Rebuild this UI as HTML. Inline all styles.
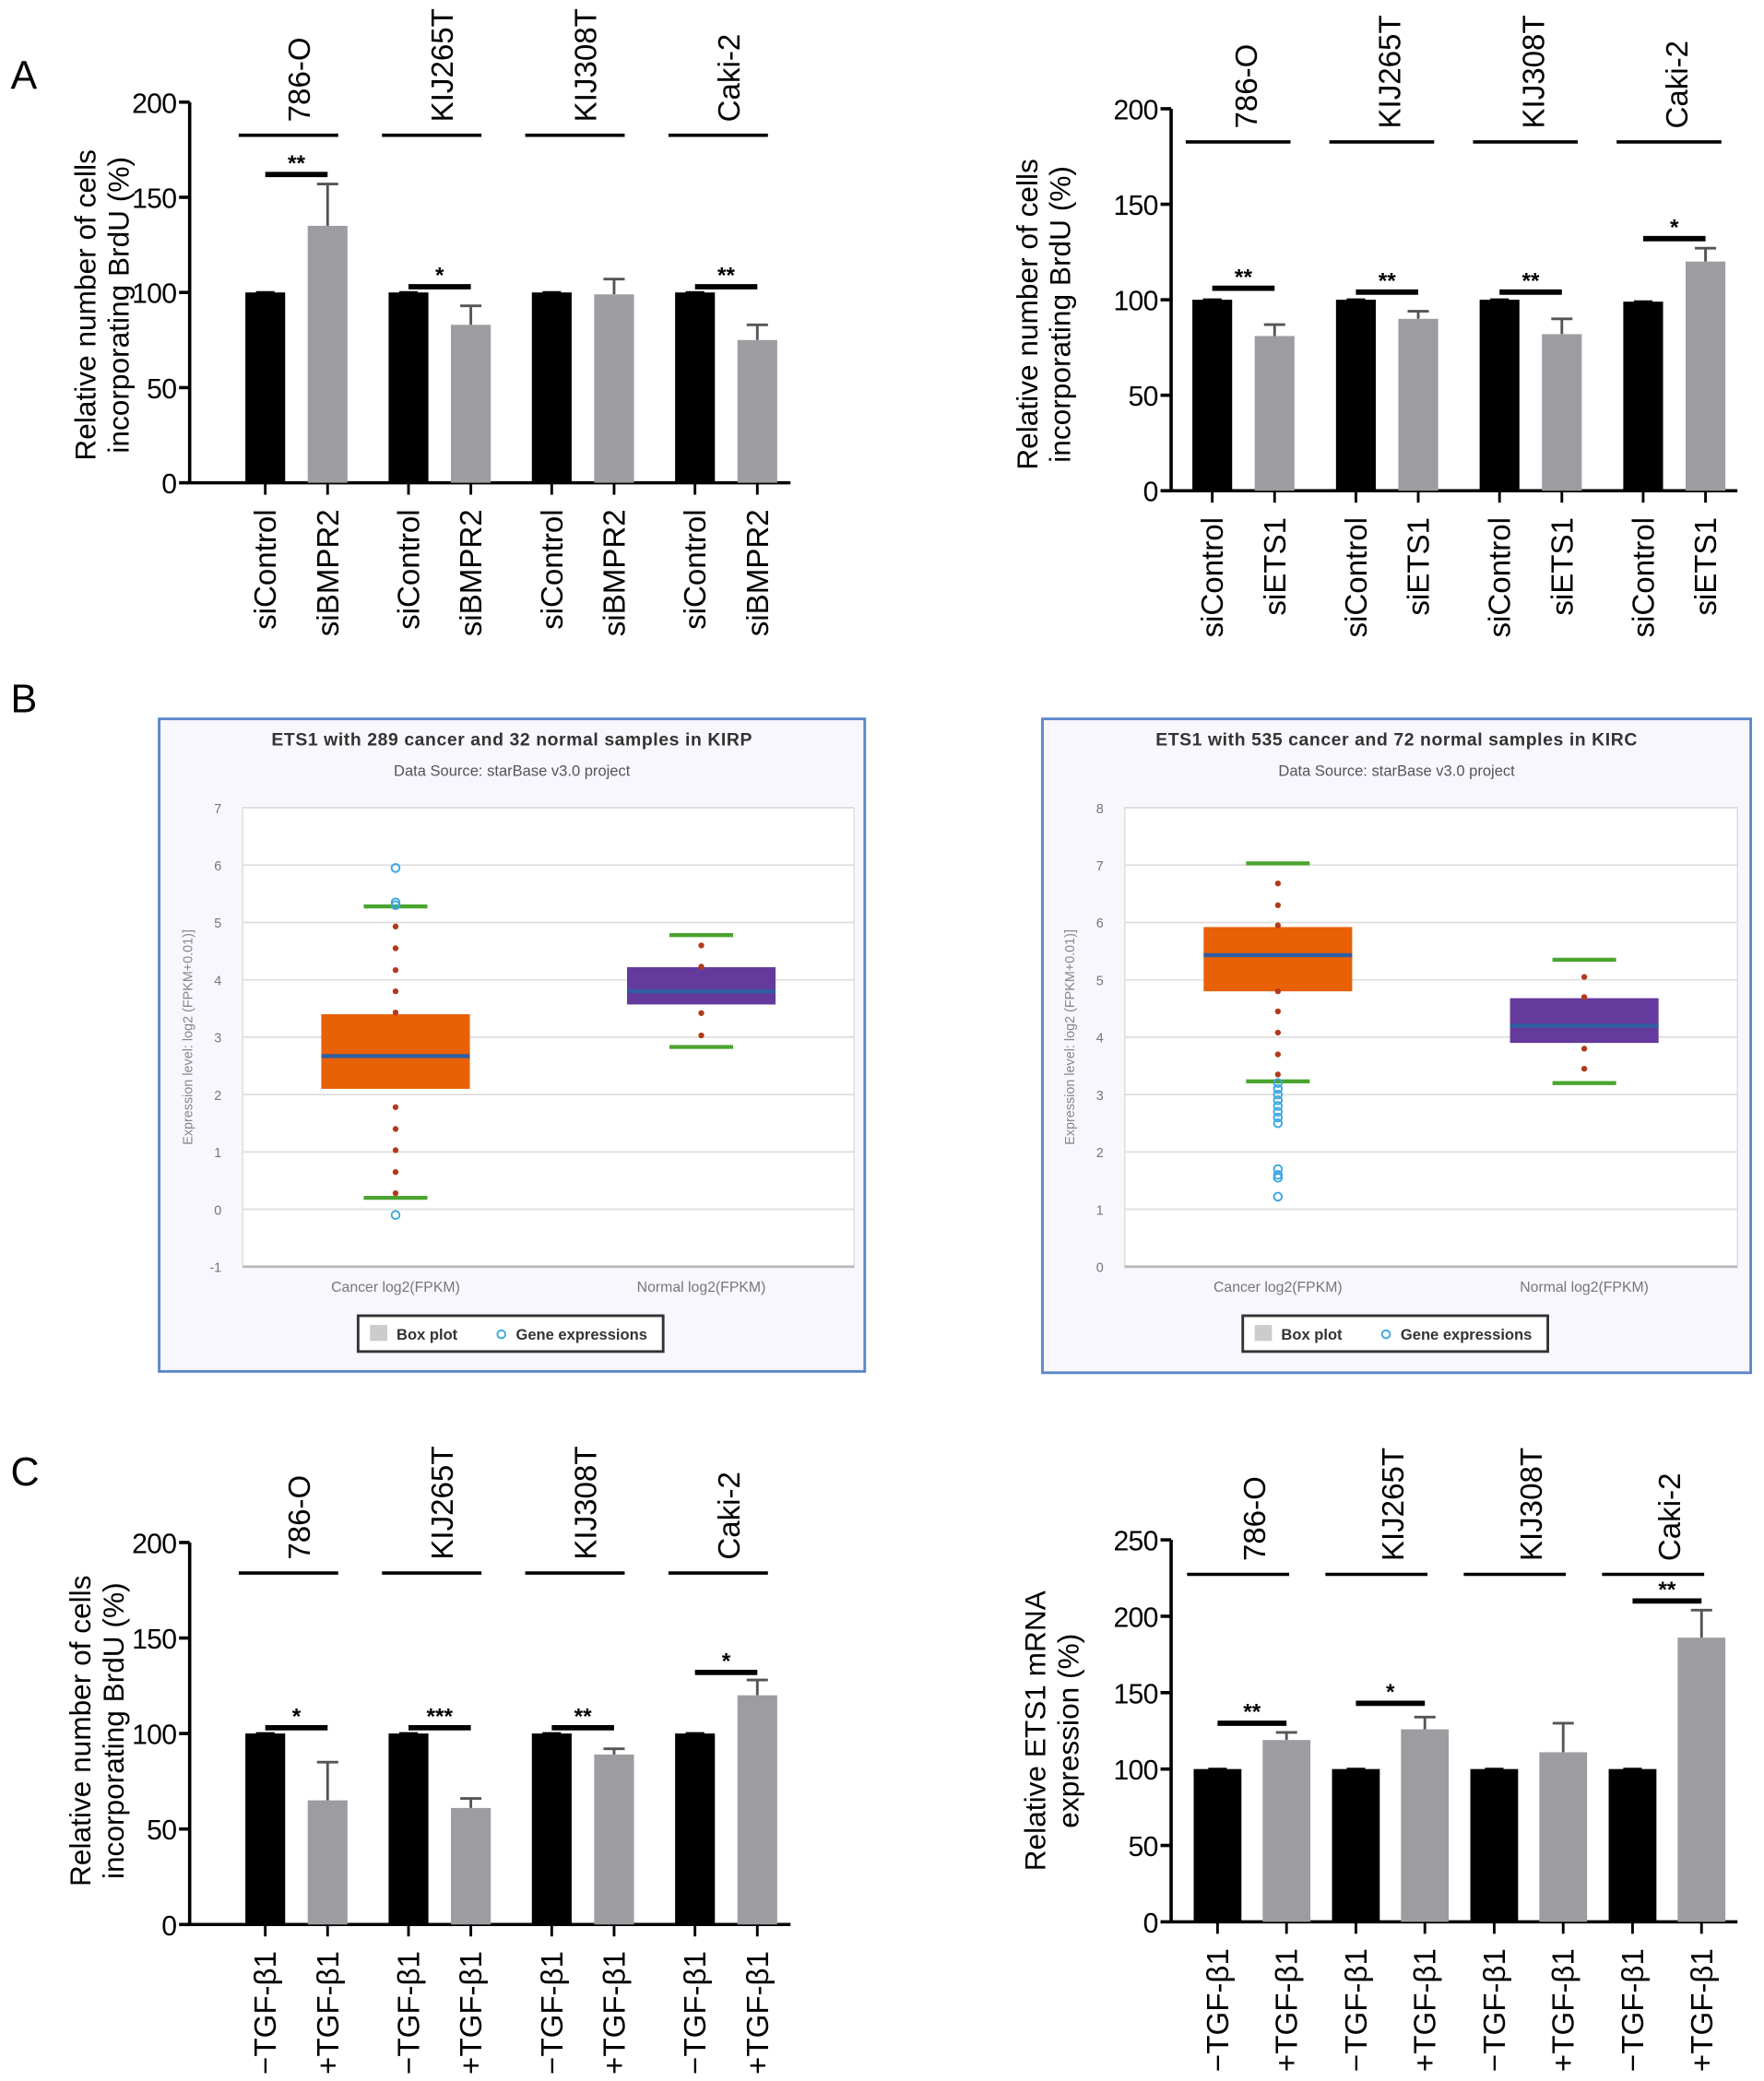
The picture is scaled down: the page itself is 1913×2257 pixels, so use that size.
<!DOCTYPE html>
<html><head><meta charset="utf-8"><style>
html,body{margin:0;padding:0;background:#fff;}
svg{display:block;font-family:"Liberation Sans",sans-serif;}
</style></head><body>
<svg id="fig" width="1913" height="2257" viewBox="0 0 1330 1569" preserveAspectRatio="none" xmlns="http://www.w3.org/2000/svg">
<text x="8" y="67" font-size="30">A</text>
<text x="8" y="537" font-size="30">B</text>
<text x="8" y="1120" font-size="30">C</text>
</svg>
<script>
const NS="http://www.w3.org/2000/svg";
const svg=document.getElementById('fig');
function mk(tag,attrs,parent,txt){const e=document.createElementNS(NS,tag);for(const k in attrs)e.setAttribute(k,attrs[k]);if(txt!==undefined)e.textContent=txt;(parent||svg).appendChild(e);return e;}

// ---------- data ----------
const cellLines=["786-O","KIJ265T","KIJ308T","Caki-2"];
const aLeftCtrl=[100,100,100,100];
const aLeftTreat=[135,83,99,75];
const aLeftErr=[157,93,107,83];
const aLeftSig=["**","*","","**"];
const aLeftSigY=[162,103,0,103];
const aRightCtrl=[100,100,100,99];
const aRightTreat=[81,90,82,120];
const aRightErr=[87,94,90,127];
const aRightSig=["**","**","**","*"];
const aRightSigY=[106,104,104,132];
const cLeftCtrl=[100,100,100,100];
const cLeftTreat=[65,61,89,120];
const cLeftErr=[85,66,92,128];
const cLeftSig=["*","***","**","*"];
const cLeftSigY=[103,103,103,132];
const cRightCtrl=[100,100,100,100];
const cRightTreat=[119,126,111,186];
const cRightErr=[124,134,130,204];
const cRightSig=["**","*","","**"];
const cRightSigY=[130,143,0,210];
const ticksA=[0,50,100,150,200];
const ticksCR=[0,50,100,150,200,250];

function barChart(o){
  const g=mk('g',{});
  
  
  const y=v=>o.y0-(v/o.max)*(o.y0-o.yTop);
  const ax=mk('line',{x1:o.ax,y1:o.yTop,x2:o.ax,y2:o.y0+1,stroke:'#000','stroke-width':2.5},g);
  
  const bx=mk('line',{x1:o.ax,y1:o.y0,x2:o.axEnd,y2:o.y0,stroke:'#000','stroke-width':2.5},g);
  
  o.ticks.forEach(t=>{
    mk('line',{x1:o.ax-8,y1:y(t),x2:o.ax,y2:y(t),stroke:'#000','stroke-width':2.5},g);
    const tl=mk('text',{x:o.ax-10,y:y(t)+8,'font-size':21,'text-anchor':'end','letter-spacing':-0.5},g,String(t));
    
  });
  const yt=mk('text',{transform:`translate(${o.titleX},${o.titleY}) rotate(-90)`,'font-size':22,'text-anchor':'middle'},g);
  
  mk('tspan',{x:0,dy:0},yt,o.title[0]);
  mk('tspan',{x:0,dy:25},yt,o.title[1]);
  o.ctrl.forEach((v,i)=>{
    const gx=o.g0+i*o.gs;
    const cx1=gx, cx2=gx+o.off;
    const b1=mk('rect',{x:cx1,y:y(v),width:o.bw,height:o.y0-y(v),fill:'#000'},g);
    
    mk('line',{x1:cx1+o.bw/2-7,y1:y(v),x2:cx1+o.bw/2+7,y2:y(v),stroke:'#000','stroke-width':2},g);
    const tv=o.treat[i];
    mk('line',{x1:cx2+o.bw/2,y1:y(tv),x2:cx2+o.bw/2,y2:y(o.err[i]),stroke:'#555','stroke-width':2},g);
    mk('line',{x1:cx2+o.bw/2-8,y1:y(o.err[i]),x2:cx2+o.bw/2+8,y2:y(o.err[i]),stroke:'#555','stroke-width':2},g);
    const b2=mk('rect',{x:cx2,y:y(tv),width:o.bw,height:o.y0-y(tv),fill:'#9d9da1'},g);
    
    mk('line',{x1:cx1+o.bw/2,y1:o.y0,x2:cx1+o.bw/2,y2:o.y0+9,stroke:'#000','stroke-width':2},g);
    mk('line',{x1:cx2+o.bw/2,y1:o.y0,x2:cx2+o.bw/2,y2:o.y0+9,stroke:'#000','stroke-width':2},g);
    [[cx1,o.xl[0]],[cx2,o.xl[1]]].forEach(([bx2,lab])=>{
      const t=mk('text',{transform:`translate(${bx2+o.bw/2+8},${o.y0+20}) rotate(-90)`,'font-size':23,'text-anchor':'end'},g,lab);
      
    });
    const gl=mk('line',{x1:cx1-5,y1:o.groupY,x2:cx2+o.bw-o.glTrim,y2:o.groupY,stroke:'#000','stroke-width':2.5},g);
    
    const lab=mk('text',{transform:`translate(${(cx1+cx2+o.bw)/2+10},${o.groupY-10}) rotate(-90)`,'font-size':23},g,cellLines[i]);
    
    if(o.sig[i]){
      const sy=y(o.sigY[i]);
      const sl=mk('line',{x1:cx1+o.bw/2,y1:sy,x2:cx2+o.bw/2,y2:sy,stroke:'#000','stroke-width':4},g);
      
      const st=mk('text',{x:(cx1+cx2+o.bw)/2,y:sy-3,'font-size':17,'font-weight':'bold','text-anchor':'middle'},g,o.sig[i]);
      
    }
  });
}
barChart({name:'chart-a-left',ax:143,axEnd:596,y0:364,yTop:77,max:200,ticks:ticksA,g0:185,gs:108,off:47,bw:30,glTrim:7,
  ctrl:aLeftCtrl,treat:aLeftTreat,err:aLeftErr,sig:aLeftSig,sigY:aLeftSigY,groupY:102,xl:["siControl","siBMPR2"],
  title:["Relative number of cells","incorporating BrdU (%)"],titleX:72,titleY:230});
barChart({name:'chart-a-right',ax:883,axEnd:1310,y0:370,yTop:82,max:200,ticks:ticksA,g0:899,gs:108.3,off:47,bw:30,glTrim:3,
  ctrl:aRightCtrl,treat:aRightTreat,err:aRightErr,sig:aRightSig,sigY:aRightSigY,groupY:107,xl:["siControl","siETS1"],
  title:["Relative number of cells","incorporating BrdU (%)"],titleX:782,titleY:237});
barChart({name:'chart-c-left',ax:143,axEnd:596,y0:1451,yTop:1163,max:200,ticks:ticksA,g0:185,gs:108,off:47,bw:30,glTrim:7,
  ctrl:cLeftCtrl,treat:cLeftTreat,err:cLeftErr,sig:cLeftSig,sigY:cLeftSigY,groupY:1186,xl:["\u2212TGF-\u03b21","+TGF-\u03b21"],
  title:["Relative number of cells","incorporating BrdU (%)"],titleX:68,titleY:1305});
barChart({name:'chart-c-right',ax:883,axEnd:1310,y0:1449,yTop:1161,max:250,ticks:ticksCR,g0:900,gs:104.3,off:52,bw:36,glTrim:16,
  ctrl:cRightCtrl,treat:cRightTreat,err:cRightErr,sig:cRightSig,sigY:cRightSigY,groupY:1187,xl:["\u2212TGF-\u03b21","+TGF-\u03b21"],
  title:["Relative ETS1 mRNA","expression (%)"],titleX:788,titleY:1305});

// ---------- box plots ----------
const kirpBox={q1:[2.1,3.57],q3:[3.4,4.22],med:[2.67,3.8],lo:[0.2,2.83],hi:[5.28,4.78]};
const kirpDots0=[4.93,4.55,4.17,3.8,3.43,1.78,1.4,1.03,0.65,0.28];
const kirpDots1=[4.6,4.23,3.42,3.03];
const kirpOut=[5.95,5.35,5.3,-0.1];
const kircBox={q1:[4.8,3.9],q3:[5.92,4.68],med:[5.43,4.2],lo:[3.23,3.2],hi:[7.03,5.35]};
const kircDots0=[6.68,6.3,5.95,4.8,4.45,4.08,3.7,3.35];
const kircDots1=[5.05,4.7,3.8,3.45];
const kircOut=[3.2,3.1,3.0,2.9,2.8,2.7,2.6,2.5,1.7,1.6,1.55,1.22];
const kirpTicks=[-1,0,1,2,3,4,5,6,7];
const kircTicks=[0,1,2,3,4,5,6,7,8];

function boxPanel(o){
  const g=mk('g',{});
  
  const fr=mk('rect',{x:o.x,y:o.y,width:o.w,height:o.h,fill:'#f7f7fd',stroke:'#5b87c9','stroke-width':2},g);
  
  const cx=o.x+o.w/2;
  const t=mk('text',{x:cx,y:o.y+20,'font-size':13.5,'font-weight':'bold','text-anchor':'middle',fill:'#333','letter-spacing':0.4},g,o.title);
  
  const s=mk('text',{x:cx,y:o.y+43,'font-size':11.5,'text-anchor':'middle',fill:'#555'},g,'Data Source: starBase v3.0 project');
  
  const px0=o.px,px1=o.px+o.pw,pyTop=609,pyBot=955;
  const lo=o.ticks[0],hi=o.ticks[o.ticks.length-1];
  const y=v=>pyBot-(v-lo)/(hi-lo)*(pyBot-pyTop);
  mk('rect',{x:px0,y:pyTop,width:o.pw,height:pyBot-pyTop,fill:'#fff',stroke:'#ddd'},g);
  o.ticks.forEach(tk=>{
    mk('line',{x1:px0,y1:y(tk),x2:px1,y2:y(tk),stroke:'#ddd','stroke-width':1.2},g);
    const tl=mk('text',{x:px0-16,y:y(tk)+4,'font-size':10,fill:'#777','text-anchor':'end'},g,String(tk));
    
  });
  mk('line',{x1:px0,y1:pyBot,x2:px1,y2:pyBot,stroke:'#bbb','stroke-width':2},g);
  const yt=mk('text',{transform:`translate(${px0-38},${(pyTop+pyBot)/2}) rotate(-90)`,'font-size':10,fill:'#888','text-anchor':'middle'},g,'Expression level: log2 (FPKM+0.01)]');
  
  const cats=['Cancer log2(FPKM)','Normal log2(FPKM)'];
  const cols=['#e86104','#643a9c'];
  const dots=[o.d0,o.d1];
  cats.forEach((c,i)=>{
    const ccx=px0+o.pw*(0.25+0.5*i);
    const cl=mk('text',{x:ccx,y:pyBot+19,'font-size':11,fill:'#777','text-anchor':'middle'},g,c);
    
    const b=mk('rect',{x:ccx-56,y:y(o.b.q3[i]),width:112,height:y(o.b.q1[i])-y(o.b.q3[i]),fill:cols[i]},g);
    
    mk('line',{x1:ccx-56,y1:y(o.b.med[i]),x2:ccx+56,y2:y(o.b.med[i]),stroke:'#2f5fa3','stroke-width':3},g);
    [o.b.lo[i],o.b.hi[i]].forEach(v=>{
      const wl=mk('line',{x1:ccx-24,y1:y(v),x2:ccx+24,y2:y(v),stroke:'#4aa52e','stroke-width':3},g);
      
    });
    dots[i].forEach(v=>{mk('circle',{cx:ccx,cy:y(v),r:2.2,fill:'#b23a1a'},g);});
    if(i===0) o.out.forEach(v=>{
      const oc=mk('circle',{cx:ccx,cy:y(v),r:3,fill:'none',stroke:'#38a6e0','stroke-width':1.3},g);
      
    });
  });
  const lg=mk('g',{},g);
  
  mk('rect',{x:o.lx,y:992,width:230,height:27,fill:'#fff',stroke:'#333','stroke-width':2},lg);
  mk('rect',{x:o.lx+9,y:999,width:13,height:12,fill:'#ccc'},lg);
  const l1=mk('text',{x:o.lx+29,y:1010,'font-size':11.5,'font-weight':'bold',fill:'#333'},lg,'Box plot');
  
  mk('circle',{cx:o.lx+108,cy:1006,r:3,fill:'none',stroke:'#38a6e0','stroke-width':1.3},lg);
  const l2=mk('text',{x:o.lx+119,y:1010,'font-size':11.5,'font-weight':'bold',fill:'#333'},lg,'Gene expressions');
  
}
boxPanel({name:'boxplot-kirp',x:120,y:542,w:532,h:492,px:183,pw:461,ticks:kirpTicks,title:'ETS1 with 289 cancer and 32 normal samples in KIRP',
  b:kirpBox,d0:kirpDots0,d1:kirpDots1,out:kirpOut,lx:270});
boxPanel({name:'boxplot-kirc',x:786,y:542,w:534,h:493,px:848,pw:462,ticks:kircTicks,title:'ETS1 with 535 cancer and 72 normal samples in KIRC',
  b:kircBox,d0:kircDots0,d1:kircDots1,out:kircOut,lx:937});
</script>
</body></html>
